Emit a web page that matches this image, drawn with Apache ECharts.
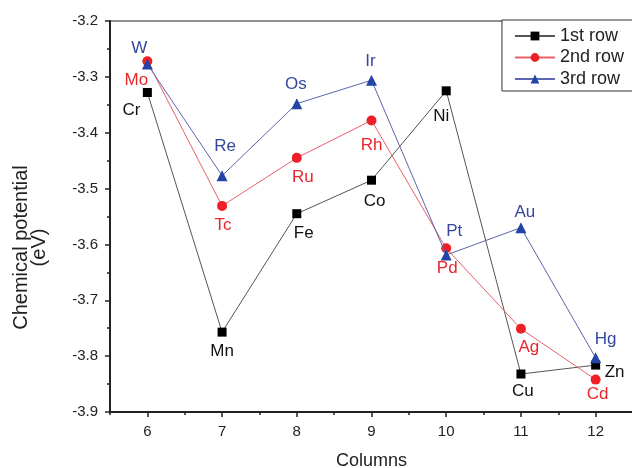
<!DOCTYPE html>
<html>
<head>
<meta charset="utf-8">
<script src="https://cdn.jsdelivr.net/npm/echarts@6/dist/echarts.min.js"></script>
<style>
  html, body { margin: 0; padding: 0; background: #fff; }
  #chart { width: 632px; height: 468px; }
</style>
</head>
<body>
<div id="chart"></div>
<script>
// periodic table columns (group numbers)
const columns = [6, 7, 8, 9, 10, 11, 12];
const tickColumns = [6, 7, 8, 9, 10, 11, 12];
const halfTicks = [5.5, 6.5, 7.5, 8.5, 9.5, 10.5, 11.5, 12.5];

// chemical potential (eV)
const row1Names = ['Cr', 'Mn', 'Fe', 'Co', 'Ni', 'Cu', 'Zn'];
const row1Values = [-3.328, -3.757, -3.545, -3.485, -3.325, -3.832, -3.816];
const row2Names = ['Mo', 'Tc', 'Ru', 'Rh', 'Pd', 'Ag', 'Cd'];
const row2Values = [-3.272, -3.531, -3.445, -3.378, -3.607, -3.751, -3.842];
const row3Names = ['W', 'Re', 'Os', 'Ir', 'Pt', 'Au', 'Hg'];
const row3Values = [-3.277, -3.477, -3.348, -3.306, -3.619, -3.570, -3.803];

const FONT = '"Liberation Sans", Arial, sans-serif';

// where each element label sits relative to its marker
const row1Offsets = [[-16, 18], [0, 19], [7, 20], [3, 21], [-5, 25], [2, 17], [19, 7]];
const row2Offsets = [[-11, 19], [1, 19], [6, 19], [0, 25], [1, 20], [8, 19], [2, 15]];
const row3Offsets = [[-8, -16], [3, -29], [-1, -19], [-1, -19], [8, -24], [4, -15], [10, -19]];

function buildData(values, names, offsets, color) {
    return values.map((v, i) => ({
        value: [columns[i], v],
        label: {
            show: true,
            position: 'inside',
            offset: offsets[i],
            formatter: names[i],
            color: color,
            fontSize: 17,
            fontFamily: FONT
        }
    }));
}

const chart = echarts.init(document.getElementById('chart'), null, { renderer: 'canvas' });

const axisColor = '#222';

chart.setOption({
    animation: false,
    backgroundColor: '#fff',
    grid: {
        left: 110, right: -1, top: 21, bottom: 56,
        outerBoundsMode: 'none',
        containLabel: false,
        show: true, borderColor: axisColor, borderWidth: 1
    },
    legend: {
        right: -2, top: 20,
        orient: 'vertical',
        backgroundColor: '#fff',
        borderColor: '#333', borderWidth: 1, borderRadius: 0,
        padding: [7, 10, 3, 12],
        itemWidth: 40, itemHeight: 11, itemGap: 3.5,
        textStyle: { fontSize: 18, fontFamily: FONT, color: '#222' },
        data: ['1st row', '2nd row', '3rd row']
    },
    xAxis: [{
        type: 'value',
        min: 5.5, max: 12.5,
        name: 'Columns',
        nameLocation: 'middle',
        nameGap: 40,
        nameTextStyle: { fontSize: 18, fontFamily: FONT, color: '#222' },
        axisLine: { show: true, onZero: false, lineStyle: { color: axisColor, width: 2 } },
        axisTick: { show: true, inside: false, length: 5, customValues: tickColumns, lineStyle: { color: axisColor, width: 1.5 } },
        axisLabel: { customValues: tickColumns, margin: 12, fontSize: 15, fontFamily: FONT, color: '#222' },
        splitLine: { show: false }
    }, {
        type: 'value',
        position: 'bottom',
        min: 5.5, max: 12.5,
        axisLine: { show: false },
        axisTick: { show: true, length: 3, customValues: halfTicks, lineStyle: { color: axisColor, width: 1.5 } },
        axisLabel: { show: false },
        splitLine: { show: false }
    }],
    yAxis: {
        type: 'value',
        min: -3.9, max: -3.2, interval: 0.1,
        name: 'Chemical potential\n(eV)',
        nameLocation: 'middle',
        nameGap: 62,
        nameTextStyle: {
            fontSize: 20, fontFamily: FONT, color: '#222', lineHeight: 18, align: 'center',
            padding: [0, 62, 0, 0]
        },
        axisLine: { show: true, onZero: false, lineStyle: { color: axisColor, width: 2 } },
        axisTick: { show: true, length: 5, lineStyle: { color: axisColor, width: 1.5 } },
        minorTick: { show: true, splitNumber: 2, length: 3, lineStyle: { color: axisColor, width: 1.5 } },
        axisLabel: { margin: 12, fontSize: 15, fontFamily: FONT, color: '#222' },
        splitLine: { show: false }
    },
    series: [{
        name: '1st row',
        type: 'line',
        symbol: 'rect', symbolSize: 9,
        itemStyle: { color: '#000' },
        lineStyle: { color: '#555', width: 1 },
        data: buildData(row1Values, row1Names, row1Offsets, '#111'),
        z: 3
    }, {
        name: '2nd row',
        type: 'line',
        symbol: 'circle', symbolSize: 10,
        itemStyle: { color: '#ee1f26' },
        lineStyle: { color: '#e7616a', width: 1 },
        data: buildData(row2Values, row2Names, row2Offsets, '#e8262d'),
        z: 4
    }, {
        name: '3rd row',
        type: 'line',
        symbol: 'triangle', symbolSize: 11,
        itemStyle: { color: '#2545a6' },
        lineStyle: { color: '#5a66ad', width: 1 },
        data: buildData(row3Values, row3Names, row3Offsets, '#34479d'),
        z: 5
    }]
});
</script>
</body>
</html>
